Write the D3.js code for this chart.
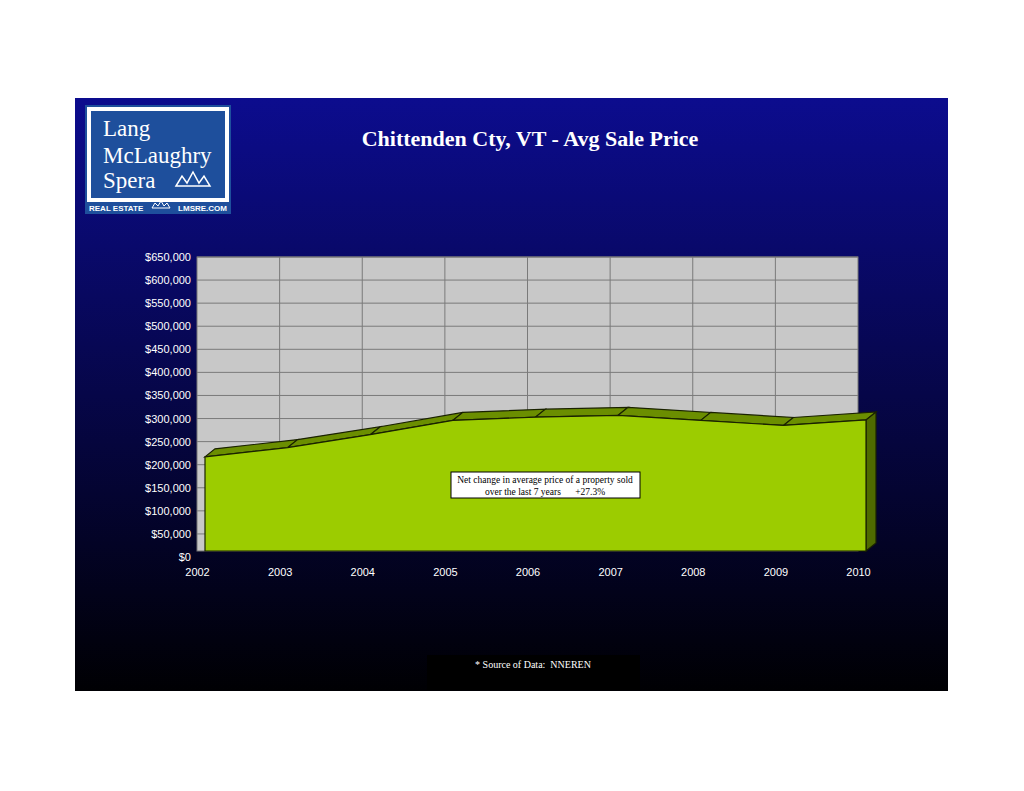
<!DOCTYPE html>
<html><head><meta charset="utf-8">
<script src="https://cdn.jsdelivr.net/npm/d3@7"></script>
<style>body{margin:0;background:#fff;}</style>
</head><body>
<svg id="c" width="1024" height="791"></svg>
<script>
const years = [2002, 2003, 2004, 2005, 2006, 2007, 2008, 2009, 2010];
const avgPrice = [204000, 224000, 252000, 283000, 290000, 294000, 283000, 272000, 284000];
const yTicks = d3.range(0, 650001, 50000);

const svg = d3.select("#c");
const defs = svg.append("defs");
const grad = defs.append("linearGradient").attr("id", "bg")
    .attr("x1", 0).attr("y1", 0).attr("x2", 0).attr("y2", 1);
grad.append("stop").attr("offset", "0%").attr("stop-color", "#0c0c8e");
grad.append("stop").attr("offset", "100%").attr("stop-color", "#000003");

svg.append("rect").attr("x", 75).attr("y", 98).attr("width", 873).attr("height", 593).attr("fill", "url(#bg)");

// logo
const logo = svg.append("g");
logo.append("rect").attr("x", 85).attr("y", 105).attr("width", 146).attr("height", 109).attr("fill", "#1e4f9c");
logo.append("rect").attr("x", 89).attr("y", 109).attr("width", 138).attr("height", 91).attr("fill", "none").attr("stroke", "#fff").attr("stroke-width", 4);
[["Lang", 136], ["McLaughry", 163], ["Spera", 188]].forEach(([t, y]) =>
    logo.append("text").attr("x", 103).attr("y", y).text(t)
        .attr("fill", "#fff").style("font-family", "Liberation Serif, serif").style("font-size", "23px"));
logo.append("text").attr("x", 89).attr("y", 211).text("REAL ESTATE")
    .attr("fill", "#fff").style("font-family", "Liberation Sans, sans-serif").style("font-size", "8px").style("font-weight", "bold");
logo.append("text").attr("x", 227).attr("y", 211).attr("text-anchor", "end").text("LMSRE.COM")
    .attr("fill", "#fff").style("font-family", "Liberation Sans, sans-serif").style("font-size", "8px").style("font-weight", "bold");
logo.append("path").attr("d", "M176,186 L182,176 L187,183 L193,172 L199,183 L204,176 L210,186 Z")
    .attr("fill", "none").attr("stroke", "#fff").attr("stroke-width", 1.5);
logo.append("path").attr("d", "M152,208 L155,203 L158,206 L161,201 L164,206 L167,203 L170,208 Z")
    .attr("fill", "none").attr("stroke", "#fff").attr("stroke-width", 1);

svg.append("text").attr("x", 530).attr("y", 146).attr("text-anchor", "middle")
    .text("Chittenden Cty, VT - Avg Sale Price")
    .attr("fill", "#fff").style("font-family", "Liberation Serif, serif").style("font-size", "22px").style("font-weight", "bold");

// chart
const x = d3.scaleLinear().domain([2002, 2010]).range([197, 858]);
const y = d3.scaleLinear().domain([0, 650000]).range([557, 257]);
const dx = 8, dy = -6, bx = 10, by = -8;

svg.append("rect").attr("x", 197).attr("y", 257).attr("width", 661).attr("height", 294)
    .attr("fill", "#c8c8c8").attr("stroke", "#777");
svg.append("g").selectAll("line").data(yTicks.slice(1)).join("line")
    .attr("x1", 197).attr("x2", 858).attr("y1", d => y(d)).attr("y2", d => y(d)).attr("stroke", "#7a7a7a");
svg.append("g").selectAll("line").data(years.slice(1, -1)).join("line")
    .attr("x1", d => x(d)).attr("x2", d => x(d)).attr("y1", 257).attr("y2", 551).attr("stroke", "#7a7a7a");

const yAxis = svg.append("g").attr("transform", "translate(197,0)")
    .call(d3.axisLeft(y).tickValues(yTicks).tickSize(0).tickPadding(6).tickFormat(d => "$" + d3.format(",")(d)));
yAxis.select(".domain").remove();
yAxis.selectAll("text").attr("fill", "#fff").style("font-family", "Liberation Sans, sans-serif").style("font-size", "11px");

const xAxis = svg.append("g").attr("transform", "translate(0,565)")
    .call(d3.axisBottom(x).tickValues(years).tickSize(0).tickPadding(3).tickFormat(d3.format("d")));
xAxis.select(".domain").remove();
xAxis.selectAll("text").attr("fill", "#fff").style("font-family", "Liberation Sans, sans-serif").style("font-size", "11px");

const pts = years.map((yr, i) => [x(yr) + dx, y(avgPrice[i]) + dy]);
const base = y(0) + dy;
// top band
for (let i = 0; i < pts.length - 1; i++) {
    const a = pts[i], b = pts[i + 1];
    svg.append("path").attr("d", `M${a[0]},${a[1]}L${b[0]},${b[1]}L${b[0] + bx},${b[1] + by}L${a[0] + bx},${a[1] + by}Z`)
        .attr("fill", "#6b8e00").attr("stroke", "#1a2200").attr("stroke-width", 1.2);
}
// right side
const last = pts[pts.length - 1];
svg.append("path").attr("d", `M${last[0]},${last[1]}L${last[0] + bx},${last[1] + by}L${last[0] + bx},${base + by}L${last[0]},${base}Z`)
    .attr("fill", "#4e6a00").attr("stroke", "#1a2200").attr("stroke-width", 1.2);
// front face
svg.append("path").attr("d", d3.area().x(d => d[0]).y0(base).y1(d => d[1])(pts))
    .attr("fill", "#9ccc00").attr("stroke", "#1a2200").attr("stroke-width", 1.2);

// annotation
svg.append("rect").attr("x", 451).attr("y", 472).attr("width", 189).attr("height", 26)
    .attr("fill", "#fff").attr("stroke", "#000");
[["Net change in average price of a property sold", 483], ["over the last 7 years      +27.3%", 495]].forEach(([t, yy]) =>
    svg.append("text").attr("x", 545).attr("y", yy).attr("text-anchor", "middle").text(t)
        .attr("xml:space", "preserve")
        .style("font-family", "Liberation Serif, serif").style("font-size", "9.5px"));

// source
svg.append("rect").attr("x", 427).attr("y", 655).attr("width", 213).attr("height", 35).attr("fill", "#000");
svg.append("text").attr("x", 533).attr("y", 668).attr("text-anchor", "middle").attr("xml:space", "preserve")
    .text("* Source of Data:  NNEREN").attr("fill", "#fff")
    .style("font-family", "Liberation Serif, serif").style("font-size", "10px");
</script>
</body></html>
